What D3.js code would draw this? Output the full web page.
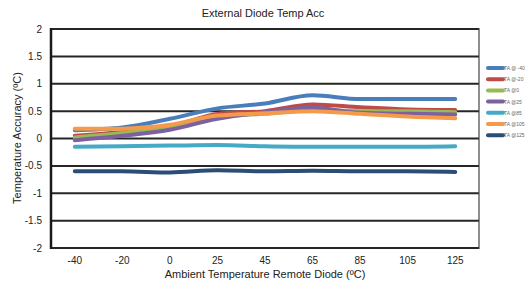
<!DOCTYPE html>
<html>
<head>
<meta charset="utf-8">
<script src="https://d3js.org/d3.v7.min.js"></script>
<style>
  body { margin: 0; background: #fff; }
  text { font-family: "Liberation Sans", Arial, sans-serif; }
</style>
</head>
<body>
<svg id="chart" width="527" height="286"></svg>
<script>
const categories = ["-40", "-20", "0", "25", "45", "65", "85", "105", "125"];
const seriesNames = ["TA @ -40", "TA @-20", "TA @0", "TA @25", "TA @85", "TA @105", "TA @125"];
const seriesColors = ["#4a7ebb", "#be4b48", "#98b954", "#7d60a0", "#46aac5", "#f59a4a", "#2c4d75"];
const taM40 = [0.15, 0.20, 0.36, 0.55, 0.64, 0.79, 0.72, 0.72, 0.72];
const taM20 = [0.05, 0.12, 0.22, 0.45, 0.50, 0.62, 0.57, 0.53, 0.52];
const ta0 = [0.02, 0.10, 0.20, 0.40, 0.45, 0.52, 0.50, 0.50, 0.48];
const ta25 = [-0.03, 0.05, 0.16, 0.36, 0.48, 0.56, 0.47, 0.45, 0.44];
const ta85 = [-0.15, -0.14, -0.13, -0.12, -0.14, -0.15, -0.15, -0.15, -0.14];
const ta105 = [0.18, 0.18, 0.25, 0.42, 0.46, 0.50, 0.45, 0.40, 0.37];
const ta125 = [-0.60, -0.60, -0.62, -0.58, -0.60, -0.59, -0.60, -0.60, -0.61];
const yTicks = [2, 1.5, 1, 0.5, 0, -0.5, -1, -1.5, -2];

const allSeries = [taM40, taM20, ta0, ta25, ta85, ta105, ta125];

const svg = d3.select("#chart");
const plotLeft = 51, plotRight = 479, plotTop = 29, plotBottom = 248;

const x = d3.scaleBand().domain(categories).range([plotLeft, plotRight]);
const y = d3.scaleLinear().domain([-2, 2]).range([plotBottom, plotTop]);

// gridlines
svg.append("g")
  .selectAll("line")
  .data(yTicks)
  .join("line")
  .attr("x1", plotLeft).attr("x2", plotRight)
  .attr("y1", d => y(d)).attr("y2", d => y(d))
  .attr("stroke", "#262626")
  .attr("stroke-width", 2);

// right border
svg.append("line")
  .attr("x1", plotRight).attr("x2", plotRight).attr("y1", plotTop - 1).attr("y2", plotBottom + 1)
  .attr("stroke", "#444").attr("stroke-width", 1.2);

// y axis line
svg.append("line")
  .attr("x1", plotLeft).attr("x2", plotLeft).attr("y1", plotTop - 1).attr("y2", plotBottom + 1)
  .attr("stroke", "#1a1a1a").attr("stroke-width", 2.5);

// y tick labels
svg.append("g")
  .selectAll("text")
  .data(yTicks)
  .join("text")
  .attr("x", 42)
  .attr("y", d => y(d) + 3.5)
  .attr("text-anchor", "end")
  .attr("font-size", 10)
  .attr("fill", "#222")
  .text(d => d);

// x tick labels
svg.append("g")
  .selectAll("text")
  .data(categories)
  .join("text")
  .attr("x", d => x(d) + x.bandwidth() / 2)
  .attr("y", 264)
  .attr("text-anchor", "middle")
  .attr("font-size", 10)
  .attr("fill", "#222")
  .text(d => d);

// lines
const line = d3.line()
  .x((d, i) => x(categories[i]) + x.bandwidth() / 2)
  .y(d => y(d))
  .curve(d3.curveMonotoneX);

svg.append("g")
  .selectAll("path")
  .data(allSeries)
  .join("path")
  .attr("d", d => line(d))
  .attr("fill", "none")
  .attr("stroke", (d, i) => seriesColors[i])
  .attr("stroke-width", 4)
  .attr("stroke-linecap", "round")
  .attr("stroke-linejoin", "round");

// title
svg.append("text")
  .attr("x", 263).attr("y", 17)
  .attr("text-anchor", "middle")
  .attr("font-size", 11)
  .attr("fill", "#222")
  .text("External Diode Temp Acc");

// axis titles
svg.append("text")
  .attr("x", 265).attr("y", 278)
  .attr("text-anchor", "middle")
  .attr("font-size", 11)
  .attr("fill", "#222")
  .text("Ambient Temperature Remote Diode (ºC)");

svg.append("text")
  .attr("transform", "translate(21,138) rotate(-90)")
  .attr("text-anchor", "middle")
  .attr("font-size", 11)
  .attr("fill", "#222")
  .text("Temperature Accuracy (ºC)");

// legend
const legend = svg.append("g")
  .selectAll("g")
  .data(seriesNames)
  .join("g")
  .attr("transform", (d, i) => `translate(488,${68 + i * 11.2})`);

legend.append("line")
  .attr("x1", 0).attr("x2", 15)
  .attr("stroke", (d, i) => seriesColors[i])
  .attr("stroke-width", 4)
  .attr("stroke-linecap", "round");

legend.append("text")
  .attr("x", 16).attr("y", 2)
  .attr("font-size", 5)
  .attr("fill", "#666")
  .text(d => d);
</script>
</body>
</html>
